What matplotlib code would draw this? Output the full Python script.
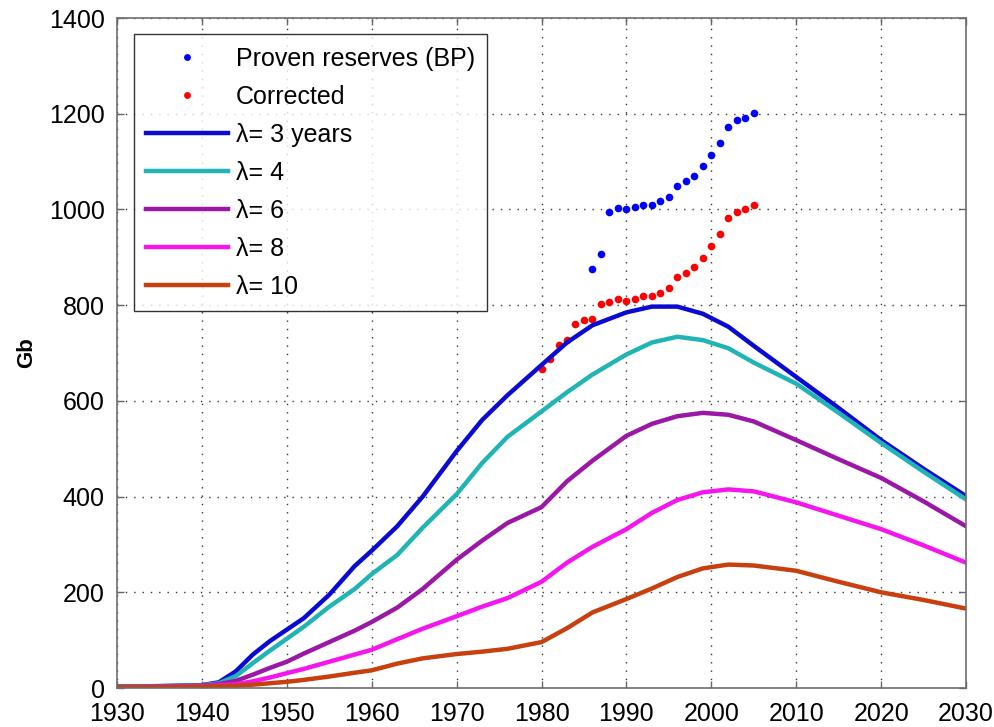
import matplotlib.pyplot as plt

plt.rcParams['font.family'] = ['Liberation Sans', 'DejaVu Sans']

# BP proven reserves and corrected series (Gb)
bp_years = [1986, 1987, 1988, 1989, 1990, 1991, 1992, 1993, 1994, 1995, 1996,
            1997, 1998, 1999, 2000, 2001, 2002, 2003, 2004, 2005]
bp_vals = [876, 907, 994, 1003, 1000, 1005, 1010, 1010, 1017, 1026, 1048,
           1059, 1069, 1090, 1114, 1139, 1173, 1187, 1192, 1201]

corr_years = list(range(1980, 2006))
corr_vals = [666, 687, 717, 728, 760, 770, 771, 803, 806, 812, 809, 813, 819,
             819, 826, 836, 858, 867, 880, 899, 924, 948, 982, 994, 1001, 1010]

# model curves
yrs = [1930, 1935, 1940, 1942, 1944, 1946, 1948, 1950, 1952, 1955, 1958, 1960,
       1963, 1966, 1970, 1973, 1976, 1980, 1983, 1986, 1990, 1993, 1996, 1999,
       2002, 2005, 2010, 2015, 2020, 2025, 2030]
lam3 = [3, 4, 6, 12, 35, 70, 98, 122, 146, 195, 255, 287, 338, 400, 495, 560,
        612, 675, 722, 758, 785, 797, 797, 782, 755, 715, 650, 585, 518, 458, 401]
lam4 = [3, 4, 6, 10, 25, 52, 78, 103, 128, 170, 207, 238, 278, 335, 405, 470,
        525, 578, 618, 655, 697, 722, 734, 727, 710, 680, 636, 575, 512, 452, 394]
lam6 = [2, 3, 5, 8, 15, 28, 42, 55, 72, 96, 120, 138, 168, 207, 268, 308,
        345, 378, 432, 475, 527, 552, 568, 575, 571, 557, 518, 478, 439, 390, 338]
lam8 = [2, 3, 4, 6, 8, 14, 22, 31, 40, 55, 70, 80, 102, 124, 150, 170,
        188, 222, 262, 295, 332, 366, 393, 409, 415, 411, 388, 360, 332, 298, 262]
lam10 = [2, 2, 3, 4, 5, 7, 10, 13, 17, 24, 32, 37, 51, 62, 71, 76,
         82, 96, 125, 158, 186, 208, 232, 250, 258, 256, 245, 222, 200, 184, 166]

curves = [
    (lam3, '#0a0ad2', '\u03bb= 3 years'),
    (lam4, '#20b4b4', '\u03bb= 4'),
    (lam6, '#9b17a6', '\u03bb= 6'),
    (lam8, '#f516ee', '\u03bb= 8'),
    (lam10, '#c8400f', '\u03bb= 10'),
]

fig = plt.figure(figsize=(9.95, 7.27), dpi=100)
ax = fig.add_axes([0.1176, 0.0536, 0.8533, 0.9216])

ax.plot(bp_years, bp_vals, 'o', color='#0000ff', markersize=5.5,
        markeredgewidth=0, label='Proven reserves (BP)')
ax.plot(corr_years, corr_vals, 'o', color='#ff0000', markersize=5.5,
        markeredgewidth=0, label='Corrected')
for vals, col, lab in curves:
    ax.plot(yrs, vals, '-', color=col, linewidth=3.2, label=lab)

ax.set_xlim(1930, 2030)
ax.set_ylim(0, 1400)
ax.set_xticks(range(1930, 2031, 10))
ax.set_yticks(range(0, 1401, 200))
ax.tick_params(direction='in', length=5, width=1, labelsize=18,
               top=True, right=True, colors='#666666', labelcolor='black')
ax.tick_params(axis='x', pad=10)
ax.tick_params(axis='y', pad=9)
ax.grid(True, color='black', linestyle=(0, (1, 5)), linewidth=1.0, alpha=0.8)
for s in ax.spines.values():
    s.set_linewidth(1.2)
    s.set_color('#6e6e6e')
ax.set_ylabel('Gb', fontsize=16, fontweight='bold', labelpad=8)

leg = ax.legend(loc='upper left', bbox_to_anchor=(0.02, 0.976), borderaxespad=0,
                fontsize=18, numpoints=1, handlelength=3.25, handletextpad=0.32,
                labelspacing=0.56, fancybox=False, frameon=True,
                borderpad=0.5, markerscale=0.9)
leg.get_frame().set_edgecolor('black')
leg.get_frame().set_linewidth(1.0)

plt.savefig('out.png', dpi=100)
